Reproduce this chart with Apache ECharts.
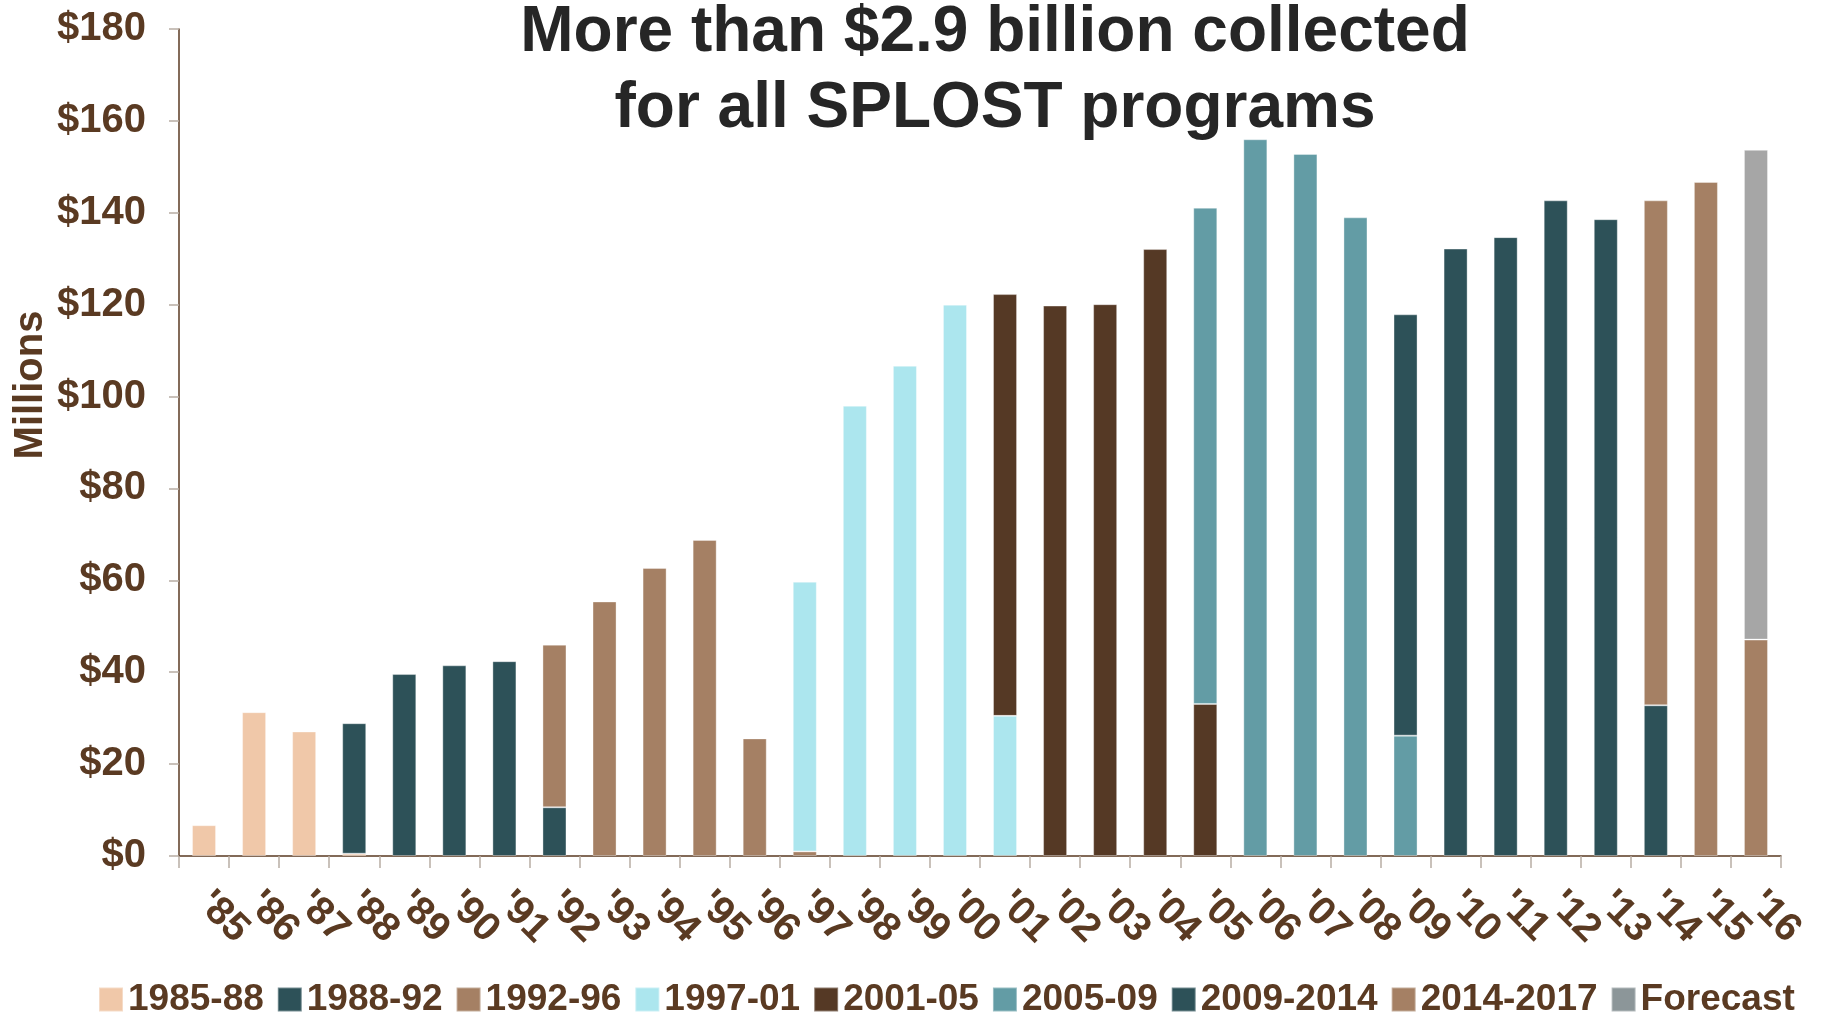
<!DOCTYPE html>
<html>
<head>
<meta charset="utf-8">
<script src="https://cdn.jsdelivr.net/npm/echarts@6/dist/echarts.min.js"></script>
<style>
html,body{margin:0;padding:0;background:#fff;}
#chart{width:1822px;height:1014px;}
</style>
</head>
<body>
<div id="chart"></div>
<script>
var years = ["'85","'86","'87","'88","'89","'90","'91","'92","'93","'94","'95","'96","'97","'98","'99","'00","'01","'02","'03","'04","'05","'06","'07","'08","'09","'10","'11","'12","'13","'14","'15","'16"];
var programs = ["1985-88","1988-92","1992-96","1997-01","2001-05","2005-09","2009-2014","2014-2017","Forecast"];
var yTicks = [0,20,40,60,80,100,120,140,160,180];
var s1985 = [6.7,31.3,27.1,0.5,'-','-','-','-','-','-','-','-','-','-','-','-','-','-','-','-','-','-','-','-','-','-','-','-','-','-','-','-'];
var s1988 = ['-','-','-',28.4,39.6,41.5,42.4,10.6,'-','-','-','-','-','-','-','-','-','-','-','-','-','-','-','-','-','-','-','-','-','-','-','-'];
var s1992 = ['-','-','-','-','-','-','-',35.4,55.4,62.7,68.8,25.6,1.0,'-','-','-','-','-','-','-','-','-','-','-','-','-','-','-','-','-','-','-'];
var s1997 = ['-','-','-','-','-','-','-','-','-','-','-','-',58.7,98,106.7,120,30.5,'-','-','-','-','-','-','-','-','-','-','-','-','-','-','-'];
var s2001 = ['-','-','-','-','-','-','-','-','-','-','-','-','-','-','-','-',91.8,119.8,120.1,132.1,33.1,'-','-','-','-','-','-','-','-','-','-','-'];
var s2005 = ['-','-','-','-','-','-','-','-','-','-','-','-','-','-','-','-','-','-','-','-',108,156,152.8,139,26.2,'-','-','-','-','-','-','-'];
var s2009 = ['-','-','-','-','-','-','-','-','-','-','-','-','-','-','-','-','-','-','-','-','-','-','-','-',91.7,132.2,134.7,142.7,138.6,32.8,'-','-'];
var s2014 = ['-','-','-','-','-','-','-','-','-','-','-','-','-','-','-','-','-','-','-','-','-','-','-','-','-','-','-','-','-',109.9,146.7,47.1];
var sForecast = ['-','-','-','-','-','-','-','-','-','-','-','-','-','-','-','-','-','-','-','-','-','-','-','-','-','-','-','-','-','-','-',106.6];

var seriesData = [s1985,s1988,s1992,s1997,s2001,s2005,s2009,s2014,sForecast];
var colors = ['#F0C8A9','#2D5158','#A58064','#ACE6EE','#553925','#639CA5','#2D5158','#A58064','#A6A6A6'];
var brown = '#5A3A22';
var font = '"Liberation Sans", Arial, sans-serif';

var chart = echarts.init(document.getElementById('chart'));
var series = programs.map(function(name,i){
  return {
    name: name,
    type: 'bar',
    stack: 'total',
    barWidth: '48%',
    data: seriesData[i],
    itemStyle: {color: colors[i], borderColor: 'rgba(255,255,255,0.35)', borderWidth: 1},
    emphasis: {disabled: true}
  };
});
chart.setOption({
  animation: false,
  backgroundColor: '#fff',
  title: {
    text: 'More than $2.9 billion collected\nfor all SPLOST programs',
    left: 990, top: -10, textAlign: 'center',
    textStyle: {fontFamily: font, fontWeight: 'bold', fontSize: 64, lineHeight: 76, color: '#262626'}
  },
  grid: {left: 179, right: 41, top: 29, bottom: 158, containLabel: false},
  legend: {
    top: 976, left: 93,
    itemWidth: 24, itemHeight: 24, itemGap: 13,
    icon: 'rect',
    textStyle: {fontFamily: font, fontWeight: 'bold', fontSize: 37, color: brown},
    data: programs.map(function(p){
      return p === 'Forecast' ? {name: p, itemStyle: {color: '#8C9699'}} : {name: p};
    })
  },
  xAxis: {
    type: 'category',
    data: years,
    axisLine: {lineStyle: {color: brown, width: 1.5}},
    axisTick: {show: true, length: 12, lineStyle: {color: '#B8ADA4', width: 1.5}},
    axisLabel: {rotate: -45, margin: 42, fontFamily: font, fontWeight: 'bold', fontSize: 40, color: brown, interval: 0}
  },
  yAxis: {
    type: 'value',
    min: yTicks[0], max: yTicks[yTicks.length-1], interval: 20,
    splitLine: {show: false},
    axisLine: {show: true, lineStyle: {color: brown, width: 1.5}},
    axisTick: {show: true, length: 10, lineStyle: {color: '#B8ADA4', width: 1.5}},
    axisLabel: {margin: 33, fontFamily: font, fontWeight: 'bold', fontSize: 40, color: brown,
      formatter: function(v){ return '$' + v; }}
  },
  graphic: [{
    type: 'text',
    x: 31, y: 385, rotation: Math.PI/2,
    style: {text: 'Millions', fontFamily: font, fontWeight: 'bold', fontSize: 40, fill: brown,
      textAlign: 'center', textVerticalAlign: 'middle'}
  }],
  series: series
});
</script>
</body>
</html>
